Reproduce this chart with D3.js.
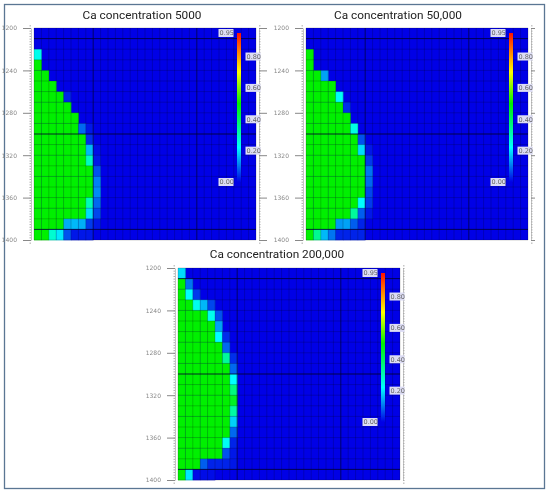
<!DOCTYPE html>
<html>
<head>
<meta charset="utf-8">
<script src="https://cdn.jsdelivr.net/npm/d3@7"></script>
<style>
  html, body { margin: 0; padding: 0; background: #fff; }
  svg { display: block; filter: blur(0.35px); }
  .title { font-family: Roboto, "Open Sans", sans-serif; font-size: 11.8px; fill: #222; text-anchor: middle; }
  .axis text { font-family: "DejaVu Sans", sans-serif; font-size: 6px; fill: #888; }
  .axis path { stroke: none; }
  .axis line { stroke: #888; }
  .minor path { stroke: #c4c4c4; }
  .minor line { stroke: #aaa; }
  .legend-box { fill: #dcdcf4; }
  .legend-text { font-family: "DejaVu Sans", sans-serif; font-size: 6.5px; fill: #666; }
</style>
</head>
<body>
<svg id="chart" width="550" height="492"></svg>
<script>
// values per row (1200 to 1390, 10 unit steps), from column 0; the rest of a row is background
var rowsCa5000 = [
  [],
  [],
  [.24],
  [.5],
  [.5, .5],
  [.5, .5, .5],
  [.5, .5, .5, .5, .03],
  [.5, .5, .5, .5, .5],
  [.5, .5, .5, .5, .5, .5],
  [.5, .5, .5, .5, .5, .5, .09, .02],
  [.5, .5, .5, .5, .5, .5, .5, .04],
  [.5, .5, .5, .5, .5, .5, .5, .16, .01],
  [.5, .5, .5, .5, .5, .5, .5, .29, .02],
  [.5, .5, .5, .5, .5, .5, .5, .5, .07],
  [.5, .5, .5, .5, .5, .5, .5, .5, .11],
  [.5, .5, .5, .5, .5, .5, .5, .5, .12],
  [.5, .5, .5, .5, .5, .5, .5, .3, .09],
  [.5, .5, .5, .5, .5, .5, .5, .19, .06],
  [.5, .5, .5, .5, .15, .16, .15, .05, .02],
  [.5, .5, .27, .2, .07, .02, .02, .02]
];
var rowsCa50000 = [
  [],
  [],
  [.5],
  [.5],
  [.5, .5, .14],
  [.5, .5, .5, .5],
  [.5, .5, .5, .5, .23],
  [.5, .5, .5, .5, .5, .04],
  [.5, .5, .5, .5, .5, .5],
  [.5, .5, .5, .5, .5, .5, .25],
  [.5, .5, .5, .5, .5, .5, .5, .07],
  [.5, .5, .5, .5, .5, .5, .5, .19, .02],
  [.5, .5, .5, .5, .5, .5, .5, .5, .05],
  [.5, .5, .5, .5, .5, .5, .5, .5, .1],
  [.5, .5, .5, .5, .5, .5, .5, .5, .09],
  [.5, .5, .5, .5, .5, .5, .5, .5, .06],
  [.5, .5, .5, .5, .5, .5, .5, .22, .05],
  [.5, .5, .5, .5, .5, .5, .33, .08, .02],
  [.5, .5, .5, .5, .13, .14, .08, .03],
  [.5, .34, .16, .1, .03, .03, .03, .03]
];
var rowsCa200000 = [
  [.19],
  [.5, .1],
  [.5, .22, .05],
  [.5, .5, .24, .16, .06],
  [.5, .5, .5, .5, .24, .07],
  [.5, .5, .5, .5, .5, .14],
  [.5, .5, .5, .5, .5, .22, .04],
  [.5, .5, .5, .5, .5, .5, .09],
  [.5, .5, .5, .5, .5, .5, .33, .04],
  [.5, .5, .5, .5, .5, .5, .5, .09],
  [.5, .5, .5, .5, .5, .5, .5, .22],
  [.5, .5, .5, .5, .5, .5, .5, .36],
  [.5, .5, .5, .5, .5, .5, .5, .46],
  [.5, .5, .5, .5, .5, .5, .5, .32],
  [.5, .5, .5, .5, .5, .5, .5, .18],
  [.5, .5, .5, .5, .5, .5, .5, .09],
  [.5, .5, .5, .5, .5, .5, .23, .03],
  [.5, .5, .5, .5, .5, .5, .07, .02],
  [.5, .5, .5, .08, .03, .03, .03, .02],
  [.5, .2, .01, .01, .01]
];
var depthTicks = [1200, 1240, 1280, 1320, 1360, 1400];
var legendTicks = [0, 0.2, 0.4, 0.6, 0.8, 0.95];
var colorStops = [0, 0.22, 0.5, 0.7, 0.95];
var colorValues = ["#0000e6", "#00ffff", "#00f000", "#ffff00", "#ff1000"];
var darkRowLines = [1210, 1300, 1390];
var darkColLines = [8, 22];

var color = d3.scaleLinear().domain(colorStops).range(colorValues);
var svg = d3.select("#chart");

svg.append("rect")
    .attr("x", 4.5).attr("y", 4.5).attr("width", 540).attr("height", 484)
    .attr("fill", "none").attr("stroke", "#5b7693").attr("stroke-width", 1.3);

var drawPanel = function (rows, title, left, top, titleX, titleY, rightTick) {
  var width = 222, height = 212, axisGap = 3;
  var g = svg.append("g").attr("transform", "translate(" + left + "," + top + ")");

  var x = d3.scaleBand().domain(d3.range(30)).range([0, width]);
  var y = d3.scaleLinear().domain([1200, 1400]).range([0, height]);
  var rowH = y(1210) - y(1200);

  g.append("rect")
      .attr("width", width).attr("height", height)
      .attr("fill", color(0));

  // only cells above background need a rect
  rows.forEach(function (row, i) {
    g.selectAll(".r" + i)
      .data(row)
      .enter().append("rect")
        .attr("class", "r" + i)
        .attr("x", function (d, c) { return x(c); })
        .attr("y", y(1200 + i * 10))
        .attr("width", x.bandwidth() + 0.3)
        .attr("height", rowH + 0.3)
        .attr("fill", function (d) { return color(d); });
  });

  // thin mesh
  g.selectAll(".meshrow")
    .data(d3.range(1200, 1401, 10))
    .enter().append("line")
      .attr("x1", 0).attr("x2", width)
      .attr("y1", function (d) { return y(d); })
      .attr("y2", function (d) { return y(d); })
      .attr("stroke", "#000").attr("stroke-opacity", 0.28).attr("stroke-width", 0.7);
  g.selectAll(".meshcol")
    .data(d3.range(31))
    .enter().append("line")
      .attr("y1", 0).attr("y2", height)
      .attr("x1", function (d) { return d * width / 30; })
      .attr("x2", function (d) { return d * width / 30; })
      .attr("stroke", "#000").attr("stroke-opacity", 0.28).attr("stroke-width", 0.7);

  g.selectAll(".darkrow")
    .data(darkRowLines)
    .enter().append("line")
      .attr("x1", 0).attr("x2", width)
      .attr("y1", function (d) { return y(d); })
      .attr("y2", function (d) { return y(d); })
      .attr("stroke", "#000030").attr("stroke-opacity", 0.7);

  g.selectAll(".darkcol")
    .data(darkColLines)
    .enter().append("line")
      .attr("y1", 0).attr("y2", height)
      .attr("x1", function (d) { return x(d); })
      .attr("x2", function (d) { return x(d); })
      .attr("stroke", "#000030").attr("stroke-opacity", 0.5);

  // axes, the small ticks run past both ends of the plot
  var minorValues = d3.range(1197.5, 1405, 2.5);
  g.append("g")
      .attr("class", "minor")
      .attr("transform", "translate(" + (-axisGap) + ",0)")
      .call(d3.axisLeft(y).tickValues(minorValues).tickSize(1.5).tickSizeOuter(0).tickFormat(""));
  g.append("g")
      .attr("class", "axis")
      .attr("transform", "translate(" + (-axisGap) + ",0)")
      .call(d3.axisLeft(y).tickValues(depthTicks).tickSize(8).tickPadding(6).tickFormat(d3.format("d")));
  g.append("g")
      .attr("class", "minor")
      .attr("transform", "translate(" + (width + axisGap) + ",0)")
      .call(d3.axisRight(y).tickValues(minorValues).tickSize(1.5).tickSizeOuter(0).tickFormat(""));
  g.append("g")
      .attr("class", "axis")
      .attr("transform", "translate(" + (width + axisGap) + ",0)")
      .call(d3.axisRight(y).tickValues(depthTicks).tickSize(rightTick).tickFormat(""));

  // colour bar
  var id = "grad" + left;
  var grad = svg.append("linearGradient").attr("id", id)
      .attr("x1", 0).attr("y1", 1).attr("x2", 0).attr("y2", 0);
  grad.selectAll("stop")
    .data(colorStops)
    .enter().append("stop")
      .attr("offset", function (d) { return d / 0.95; })
      .attr("stop-color", function (d) { return color(d); });

  var barY = d3.scaleLinear().domain([0, 0.95]).range([154, 5]);
  g.append("rect")
      .attr("x", 203).attr("y", barY(0.95))
      .attr("width", 4).attr("height", barY(0) - barY(0.95))
      .attr("fill", "url(#" + id + ")");

  var label = g.selectAll(".legend")
    .data(legendTicks)
    .enter().append("g")
      .attr("class", "legend")
      .attr("transform", function (d) {
        var side = (d === 0 || d === 0.95) ? 185 : 212;
        return "translate(" + side + "," + barY(d) + ")";
      });
  label.append("rect")
      .attr("class", "legend-box")
      .attr("x", -0.5).attr("y", -4).attr("width", 15).attr("height", 8);
  label.append("text")
      .attr("class", "legend-text")
      .attr("x", 0.5).attr("y", 2.4)
      .text(function (d) { return d3.format(".2f")(d); });

  svg.append("text")
      .attr("class", "title")
      .attr("x", titleX).attr("y", titleY)
      .text(title);
};

drawPanel(rowsCa5000, "Ca concentration 5000", 34, 28, 142, 19, 8);
drawPanel(rowsCa50000, "Ca concentration 50,000", 306, 28, 398, 19, 4);
drawPanel(rowsCa200000, "Ca concentration 200,000", 178, 268, 277, 258, 0);
</script>
</body>
</html>
